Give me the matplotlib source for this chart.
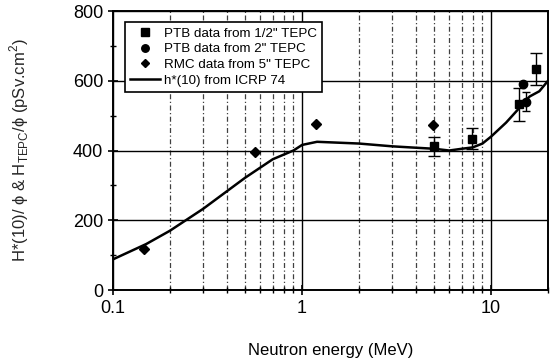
import numpy as np
import matplotlib
matplotlib.use('Agg')
from matplotlib import pyplot as plt
from matplotlib.ticker import FixedLocator, NullFormatter, LogLocator

plt.rcParams['font.family'] = ['Liberation Sans', 'DejaVu Sans']
plt.rcParams['mathtext.fontset'] = 'custom'
plt.rcParams['mathtext.rm'] = 'Liberation Sans'

# h*(10) from ICRP 74
icrp_e = [0.1, 0.15, 0.2, 0.3, 0.5, 0.7, 0.9, 1.0, 1.2, 2.0, 3.0, 4.0, 5.0, 6.0, 7.0, 8.0, 9.0, 10.0, 12.0, 14.0, 15.0, 16.0, 18.0, 20.0]
icrp_h = [88, 132, 170, 233, 322, 375, 400, 416, 425, 420, 412, 408, 405, 400, 405, 409, 420, 440, 480, 520, 540, 555, 570, 600]

# PTB 1/2" TEPC
sq_e = [5.0, 7.9, 14.0, 17.3]
sq_h = [412, 434, 532, 634]
sq_err = [27, 30, 46, 46]

# PTB 2" TEPC
ci_e = [14.8, 15.3]
ci_h = [592, 540]
ci_err = [0, 28]

# RMC 5" TEPC
di_e = [0.145, 0.565, 1.19, 4.9]
di_h = [118, 396, 476, 473]

fig = plt.figure(figsize=(5.53, 3.6), dpi=100)
ax = fig.add_axes([0.2044, 0.1944, 0.7866, 0.775])

ax.plot(icrp_e, icrp_h, color='black', lw=1.8, label='h*(10) from ICRP 74', zorder=3)
ax.errorbar(sq_e, sq_h, yerr=sq_err, fmt='none', ecolor='black', elinewidth=1.0, capsize=4, capthick=1.0, zorder=4)
ax.errorbar(ci_e[1:], ci_h[1:], yerr=ci_err[1:], fmt='none', ecolor='black', elinewidth=1.0, capsize=3, capthick=1.0, zorder=4)
ax.plot(sq_e, sq_h, 's', color='black', ms=6, ls='none', label='PTB data from 1/2" TEPC', zorder=5)
ax.plot(ci_e, ci_h, 'o', color='black', ms=6, ls='none', label='PTB data from 2" TEPC', zorder=5)
ax.plot(di_e, di_h, 'D', color='black', ms=5, ls='none', label='RMC data from 5" TEPC', zorder=5)

ax.set_xscale('log')
ax.set_xlim(0.1, 20)
ax.set_ylim(0, 800)
ax.set_yticks([0, 200, 400, 600, 800])
ax.yaxis.set_minor_locator(FixedLocator([100, 300, 500, 700]))
ax.xaxis.set_major_locator(FixedLocator([0.1, 1, 10]))
ax.set_xticklabels(['0.1', '1', '10'])
ax.xaxis.set_minor_locator(LogLocator(base=10, subs=np.arange(2, 10)))
ax.xaxis.set_minor_formatter(NullFormatter())

ax.grid(which='major', color='black', lw=1.0, ls='-')
ax.grid(which='minor', axis='x', color='0.25', lw=0.9, ls=(0, (4, 2, 1, 2)))
ax.set_axisbelow(True)

ax.tick_params(which='major', direction='inout', length=7, width=1.2, labelsize=13, colors='black')
ax.tick_params(which='minor', direction='inout', length=4, width=1.0)
for s in ax.spines.values():
    s.set_linewidth(1.4)

ax.set_xlabel('Neutron energy (MeV)', fontsize=12, labelpad=19)
ax.set_ylabel('H*(10)/ \u03d5 & H$_{\\mathrm{TEPC}}$/\u03d5 (pSv.cm$^2$)', fontsize=12, labelpad=30, color='0.15')

h, l = ax.get_legend_handles_labels()
order = [1, 2, 3, 0]
leg = ax.legend([h[i] for i in order], [l[i] for i in order], loc='upper left',
                bbox_to_anchor=(0.012, 0.985), fontsize=9.6, frameon=True, fancybox=False,
                edgecolor='black', framealpha=1, labelspacing=0.25, handlelength=2.2,
                handletextpad=0.3, borderpad=0.4, markerscale=0.9)
leg.get_frame().set_linewidth(1.2)

fig.savefig('out.png', dpi=100)
